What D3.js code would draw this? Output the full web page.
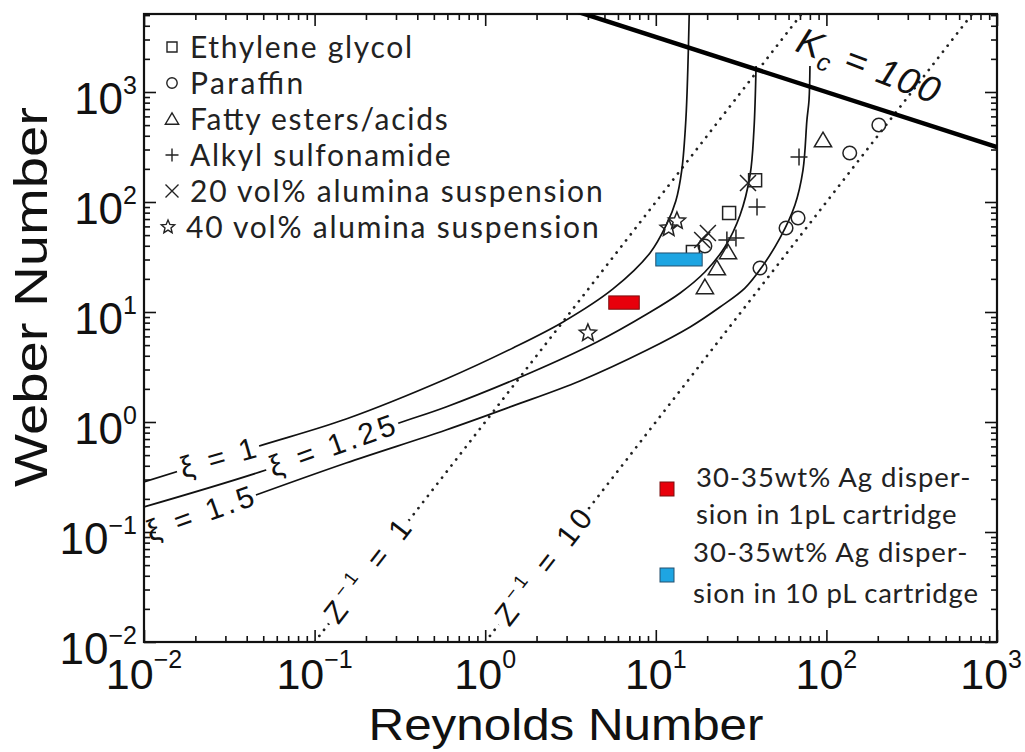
<!DOCTYPE html>
<html>
<head>
<meta charset="utf-8">
<script src="https://cdn.jsdelivr.net/npm/d3@7"></script>
<style>
  body { margin: 0; background: #fff; }
  svg { display: block; }
</style>
</head>
<body>
<div id="chart"></div>
<script>
// ---- data ----
const reynoldsTicks = [1e-2, 1e-1, 1e0, 1e1, 1e2, 1e3];
const reynoldsExp = ["\u22122", "\u22121", "0", "1", "2", "3"];
const weberTicks = [1e-2, 1e-1, 1e0, 1e1, 1e2, 1e3];
const weberExp = ["\u22122", "\u22121", "0", "1", "2", "3"];

// [Re, We]
const xi1 = [[0.01, 0.285], [0.0453, 0.593], [0.153, 1.065], [0.589, 2.46], [1.455, 4.71],
  [2.86, 8.11], [5.61, 16.2], [9.25, 34.4], [11.6, 63.1], [13.1, 102], [14.2, 195],
  [15.0, 557], [15.4, 1585], [15.7, 5100]];
const xi125 = [[0.01, 0.169], [0.0519, 0.366], [0.300, 0.959], [0.589, 1.37], [1.83, 2.79],
  [4.52, 5.34], [8.88, 9.59], [13.9, 14.9], [19.4, 23.1], [25.4, 39.0], [31.2, 76.2],
  [35.7, 176], [37.6, 451], [38.7, 1723]];
const xi15 = [[0.0453, 0.217], [0.153, 0.424], [0.589, 0.846], [1.455, 1.40], [3.59, 2.36],
  [8.88, 4.51], [15.9, 7.31], [23.8, 11.1], [33.3, 16.5], [41.9, 25.7], [53.5, 47.1],
  [65.4, 93.9], [72.9, 195], [76.9, 557], [79.1, 846], [80.1, 1723]];
const zInv1 = [[0.1, 0.01], [100, 10000]];
const zInv10 = [[1, 0.01], [1000, 10000]];
const kc100 = [[1, 10000], [1000, 316]];

const ethyleneGlycol = [[38.2, 158], [26.9, 79.4], [16.5, 35.1]];
const paraffin = [[203, 501], [137, 279], [68.2, 71.5], [58.0, 58.0], [40.8, 25.1], [19.4, 39.8]];
const fattyEsters = [[95.5, 366], [26.5, 35.1], [22.8, 25.1], [19.4, 16.9]];
const alkylSulfonamide = [[69.1, 257], [39.2, 90.1], [26.1, 45.1], [29.5, 47.1]];
const alumina20 = [[34.7, 149], [20.2, 52.3], [18.7, 45.1]];
const alumina40 = [[13.3, 67.2], [11.9, 58.0], [4.0, 6.44]];

const ag1pLRe = [5.3, 8.0], ag1pLWe = [10.6, 14.0];
const ag10pLRe = [10.0, 18.7], ag10pLWe = [26.2, 34.4];

const legendNames = ["Ethylene glycol", "Paraffin", "Fatty esters/acids", "Alkyl sulfonamide",
  "20 vol% alumina suspension", "40 vol% alumina suspension"];
const agLegend1 = ["30-35wt% Ag disper-", "sion in 1pL cartridge"];
const agLegend2 = ["30-35wt% Ag disper-", "sion in 10 pL cartridge"];

// ---- layout ----
const W = 1025, H = 752;
const plot = { left: 144, right: 997, top: 14, bottom: 642 };
const helv = "'Liberation Sans', Arial, Helvetica, sans-serif";
const calib = "Lato, 'Open Sans', sans-serif";

const svg = d3.select("#chart").append("svg").attr("width", W).attr("height", H);

const x = d3.scaleLog().domain([1e-2, 1e3]).range([plot.left, plot.right]);
const y = d3.scaleLog().domain([1e-2, Math.pow(10, 3.709)]).range([plot.bottom, plot.top]);

svg.append("clipPath").attr("id", "clip")
  .append("rect")
  .attr("x", plot.left).attr("y", plot.top)
  .attr("width", plot.right - plot.left).attr("height", plot.bottom - plot.top);

// ---- axes: inward ticks on all four sides ----
const isMajor = t => Math.abs(Math.log10(t) - Math.round(Math.log10(t))) < 1e-6;
const minorX = x.ticks().filter(t => !isMajor(t));
const minorY = y.ticks().filter(t => !isMajor(t));

function addAxis(axis, tx, ty) {
  const g = svg.append("g").attr("transform", `translate(${tx},${ty})`).call(axis);
  g.select(".domain").remove();
  g.selectAll("line").attr("stroke", "#111").attr("stroke-width", 1.6);
  g.selectAll("text").remove();
}
[[reynoldsTicks, 12], [minorX, 6]].forEach(([vals, len]) => {
  addAxis(d3.axisBottom(x).tickValues(vals).tickSize(-len).tickFormat(""), 0, plot.bottom);
  addAxis(d3.axisTop(x).tickValues(vals).tickSize(-len).tickFormat(""), 0, plot.top);
});
[[weberTicks, 12], [minorY, 6]].forEach(([vals, len]) => {
  addAxis(d3.axisLeft(y).tickValues(vals).tickSize(-len).tickFormat(""), plot.left, 0);
  addAxis(d3.axisRight(y).tickValues(vals).tickSize(-len).tickFormat(""), plot.right, 0);
});

svg.append("rect")
  .attr("x", plot.left).attr("y", plot.top)
  .attr("width", plot.right - plot.left).attr("height", plot.bottom - plot.top)
  .attr("fill", "none").attr("stroke", "#111").attr("stroke-width", 2.2);

// tick labels 10^n
reynoldsTicks.forEach((t, i) => {
  const last = i === reynoldsTicks.length - 1;
  const tx = svg.append("text")
    .attr("x", last ? 1022 : x(t)).attr("y", 689)
    .attr("text-anchor", last ? "end" : "middle")
    .attr("font-family", helv).attr("fill", "#111");
  tx.append("tspan").attr("font-size", 43).text("10");
  tx.append("tspan").attr("font-size", 25).attr("dy", -21).text(reynoldsExp[i]);
});
weberTicks.forEach((t, i) => {
  const ty = svg.append("text")
    .attr("x", 137).attr("y", y(t) + 22)
    .attr("text-anchor", "end")
    .attr("font-family", helv).attr("fill", "#111");
  ty.append("tspan").attr("font-size", 44).text("10");
  ty.append("tspan").attr("font-size", 25).attr("dy", -20).text(weberExp[i]);
});

// axis titles
svg.append("text")
  .attr("x", 566).attr("y", 740)
  .attr("text-anchor", "middle")
  .attr("font-family", helv).attr("font-size", 45).attr("fill", "#111")
  .attr("textLength", 395).attr("lengthAdjust", "spacingAndGlyphs")
  .text("Reynolds Number");
svg.append("text")
  .attr("transform", "translate(47,297) rotate(-90)")
  .attr("text-anchor", "middle")
  .attr("font-family", helv).attr("font-size", 46).attr("fill", "#111")
  .attr("textLength", 380).attr("lengthAdjust", "spacingAndGlyphs")
  .text("Weber Number");

// ---- lines ----
const plotArea = svg.append("g").attr("clip-path", "url(#clip)");

const smooth = d3.line()
  .x(d => x(d[0])).y(d => y(d[1]))
  .curve(d3.curveCatmullRom.alpha(0.5));
const straight = d3.line().x(d => x(d[0])).y(d => y(d[1]));

[zInv1, zInv10].forEach(data => {
  plotArea.append("path").datum(data)
    .attr("d", straight)
    .attr("fill", "none").attr("stroke", "#222")
    .attr("stroke-width", 2.7).attr("stroke-linecap", "round")
    .attr("stroke-dasharray", "0.1 7.6");
});

[xi1, xi125, xi15].forEach(data => {
  plotArea.append("path").datum(data)
    .attr("d", smooth)
    .attr("fill", "none").attr("stroke", "#111").attr("stroke-width", 1.7);
});

plotArea.append("path").datum(kc100)
  .attr("d", straight)
  .attr("fill", "none").attr("stroke", "#000").attr("stroke-width", 4.5);

// ---- line labels ----
const angleOf = line => {
  const [a, b] = line;
  return Math.atan2(y(b[1]) - y(a[1]), x(b[0]) - x(a[0])) * 180 / Math.PI;
};

function lineLabel(pos, angle, len, knock, build) {
  const g = plotArea.append("g")
    .attr("transform", `translate(${x(pos[0])},${y(pos[1])}) rotate(${angle})`);
  if (knock) {
    g.append("rect")
      .attr("x", -len / 2 - 4).attr("y", -6)
      .attr("width", len + 8).attr("height", 12)
      .attr("fill", "#fff");
  }
  const t = g.append("text")
    .attr("text-anchor", "middle")
    .attr("font-family", helv).attr("fill", "#111")
    .attr("textLength", len).attr("lengthAdjust", "spacing");
  build(t);
}

lineLabel([0.0271, 0.47], -16, 78, true, t =>
  t.attr("y", 10).attr("font-size", 30).text("\u03be = 1"));
lineLabel([0.1265, 0.605], -19.5, 132, true, t =>
  t.attr("y", 10).attr("font-size", 30).text("\u03be = 1.25"));
lineLabel([0.0213, 0.146], -19.5, 112, false, t =>
  t.attr("y", 10).attr("font-size", 30).text("\u03be = 1.5"));

lineLabel([0.205, 0.044], angleOf(zInv1), 122, true, t => {
  t.attr("y", 10).attr("font-size", 30);
  t.append("tspan").text("Z");
  t.append("tspan").attr("font-size", 19).attr("dy", -13).text("\u22121");
  t.append("tspan").attr("dy", 13).text(" = 1");
});
lineLabel([2.2, 0.048], angleOf(zInv10), 138, true, t => {
  t.attr("y", 10).attr("font-size", 30);
  t.append("tspan").text("Z");
  t.append("tspan").attr("font-size", 19).attr("dy", -13).text("\u22121");
  t.append("tspan").attr("dy", 13).text(" = 10");
});
lineLabel([175, 1687], 21, 150, false, t => {
  t.attr("y", 11).attr("font-size", 37).attr("font-style", "italic");
  t.append("tspan").text("K");
  t.append("tspan").attr("font-size", 25).attr("dy", 9).text("c");
  t.append("tspan").attr("dy", -9).text(" = 100");
});

// ---- markers ----
function markerPath(type, s) {
  switch (type) {
    case "square": return `M${-s},${-s}H${s}V${s}H${-s}Z`;
    case "circle": return `M${s},0A${s},${s} 0 1,1 ${-s},0A${s},${s} 0 1,1 ${s},0Z`;
    case "triangle": return `M0,${-s * 1.05}L${s * 1.15},${s * 0.9}L${-s * 1.15},${s * 0.9}Z`;
    case "plus": return `M${-s},0H${s}M0,${-s}V${s}`;
    case "x": return `M${-s},${-s}L${s},${s}M${-s},${s}L${s},${-s}`;
    case "star": {
      const pts = d3.range(10).map(i => {
        const r = i % 2 ? s * 0.45 : s;
        const a = -Math.PI / 2 + i * Math.PI / 5;
        return [r * Math.cos(a), r * Math.sin(a)];
      });
      return "M" + pts.map(p => p.join(",")).join("L") + "Z";
    }
  }
}

const seriesList = [
  [ethyleneGlycol, "square", 6.5],
  [paraffin, "circle", 6.8],
  [fattyEsters, "triangle", 7.5],
  [alkylSulfonamide, "plus", 8.5],
  [alumina20, "x", 8],
  [alumina40, "star", 9]
];

seriesList.forEach(([data, type, size]) => {
  plotArea.selectAll(null).data(data).enter().append("path")
    .attr("transform", d => `translate(${x(d[0])},${y(d[1])})`)
    .attr("d", markerPath(type, size))
    .attr("fill", "none").attr("stroke", "#222").attr("stroke-width", 1.5);
});

// Ag dispersion boxes
[[ag1pLRe, ag1pLWe, "#e8000b", "#7a1010"], [ag10pLRe, ag10pLWe, "#1ea5e2", "#24506e"]]
  .forEach(([re, we, fill, stroke]) => {
    plotArea.append("rect")
      .attr("x", x(re[0])).attr("y", y(we[1]))
      .attr("width", x(re[1]) - x(re[0])).attr("height", y(we[0]) - y(we[1]))
      .attr("fill", fill).attr("stroke", stroke).attr("stroke-width", 1);
  });

// ---- legends ----
// widen the text a little so it runs as long as the reference's Calibri
function fitWidths(texts, refIndex, refWidth) {
  const nat = texts.map(t => t.node().getComputedTextLength());
  const k = refWidth / nat[refIndex];
  texts.forEach((t, i) => t.attr("textLength", nat[i] * k).attr("lengthAdjust", "spacing"));
}

const legendTypes = ["square", "circle", "triangle", "plus", "x", "star"];
const legendSizes = [5, 5.2, 5.8, 6.5, 6.5, 7];
const legendTexts = legendNames.map((name, i) => {
  const cy = 47 + 36 * i;
  const mx = i === 5 ? 168 : 172;
  svg.append("path")
    .attr("transform", `translate(${mx},${cy})`)
    .attr("d", markerPath(legendTypes[i], legendSizes[i]))
    .attr("fill", "none").attr("stroke", "#222").attr("stroke-width", 1.4);
  return svg.append("text")
    .attr("x", i === 5 ? 186 : 190).attr("y", cy + 11)
    .attr("font-family", calib).attr("font-size", 30).attr("fill", "#222")
    .text(name);
});
fitWidths(legendTexts, 0, 222);

const agTexts = [];
[[agLegend1, "#e8000b", "#7a1010", 489, 696, [487, 524]],
 [agLegend2, "#1ea5e2", "#24506e", 575, 693, [562, 603]]]
  .forEach(([lines, fill, stroke, cy, tx, bases]) => {
    svg.append("rect")
      .attr("x", 660).attr("y", cy - 7).attr("width", 14).attr("height", 14)
      .attr("fill", fill).attr("stroke", stroke).attr("stroke-width", 1);
    lines.forEach((line, j) => {
      agTexts.push(svg.append("text")
        .attr("x", tx).attr("y", bases[j])
        .attr("font-family", calib).attr("font-size", 27.5).attr("fill", "#222")
        .text(line));
    });
  });
fitWidths(agTexts, 3, 285);
</script>
</body>
</html>
